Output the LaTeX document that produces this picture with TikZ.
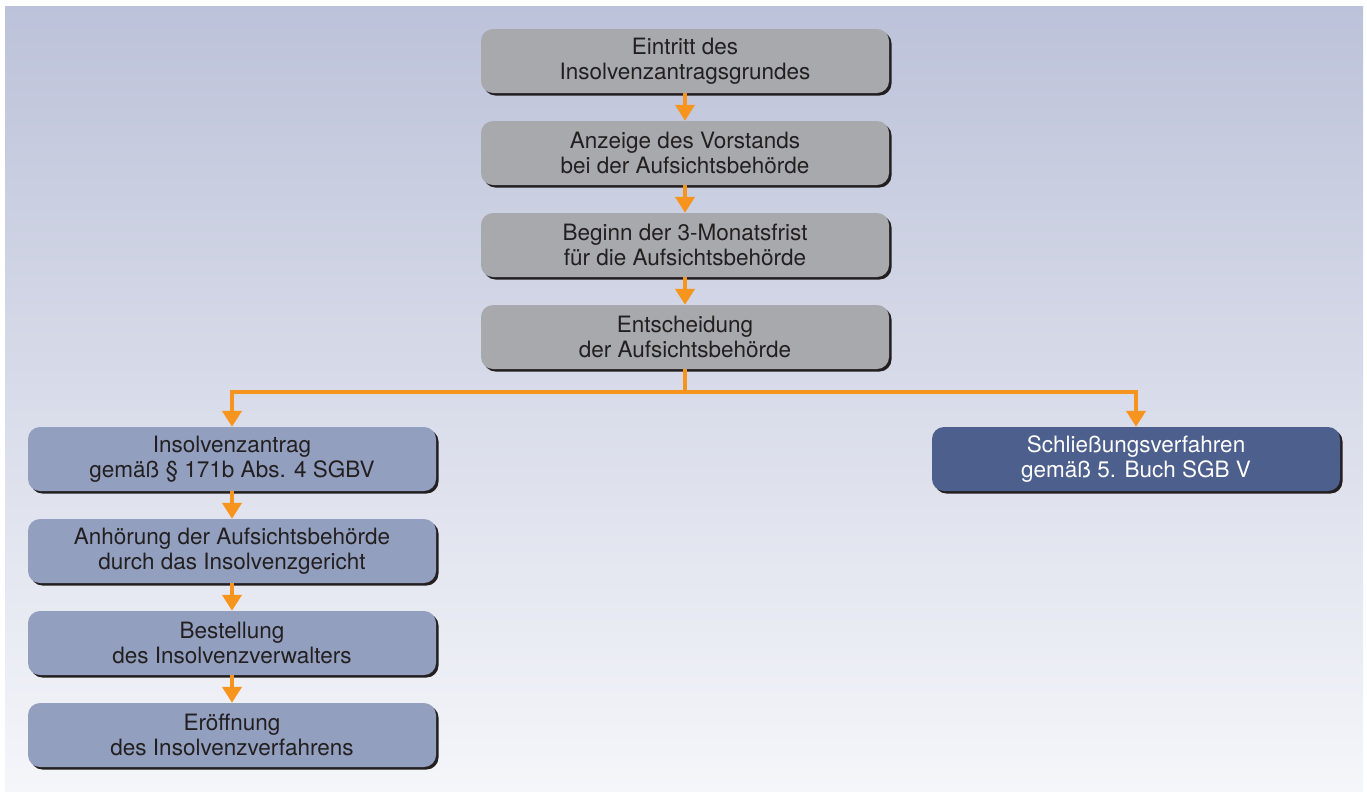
\documentclass[tikz,border=0pt]{standalone}
\usepackage{fontspec}
\setmainfont{TeX Gyre Heros}
\usetikzlibrary{arrows.meta,shadows}

\definecolor{bgtop}{HTML}{BCC2D9}
\definecolor{bgbottom}{HTML}{F5F6FA}
\definecolor{stepgray}{HTML}{A7A9AC}
\definecolor{steplight}{HTML}{929FBF}
\definecolor{stepdark}{HTML}{4D5F8C}
\definecolor{flowline}{HTML}{F7941D}
\definecolor{inktext}{HTML}{231F20}

\tikzset{
  stepbox/.style={rectangle, rounded corners=12pt, minimum width=408pt,
    minimum height=64pt, align=center, text=inktext,
    font=\fontsize{22.5}{24.5}\selectfont,
    drop shadow={shadow xshift=2.5pt, shadow yshift=-2.5pt, fill=inktext, opacity=1}},
  graybox/.style={stepbox, fill=stepgray},
  lightbox/.style={stepbox, fill=steplight},
  darkbox/.style={stepbox, fill=stepdark, text=white},
  flow/.style={draw=flowline, line width=4pt,
    -{Triangle[width=19pt,length=16pt]}}
}

\begin{document}
\begin{tikzpicture}[x=1pt,y=-1pt]
\useasboundingbox (0,0) rectangle (1367,793);
\shade[top color=bgtop, bottom color=bgbottom] (5,6) rectangle (1363,791);
            % Boxes
\node[graybox] (entry) at (685,61) {Eintritt des\\Insolvenzantragsgrundes};
\node[graybox] (notice) at (685,153) {Anzeige des Vorstands\\bei der Aufsichtsbehörde};
\node[graybox] (period) at (685,245) {Beginn der 3-Monatsfrist\\für die Aufsichtsbehörde};
\node[graybox] (decision) at (685,337) {Entscheidung\\der Aufsichtsbehörde};
\node[lightbox] (petition) at (232,459) {Insolvenzantrag\\gemäß § 171b Abs. 4 SGBV};
\node[lightbox] (hearing) at (232,551) {Anhörung der Aufsichtsbehörde\\durch das Insolvenzgericht};
\node[lightbox] (trustee) at (232,643) {Bestellung\\des Insolvenzverwalters};
\node[lightbox] (opening) at (232,735) {Eröffnung\\des Insolvenzverfahrens};
\node[darkbox] (closure) at (1136,459) {Schließungsverfahren\\gemäß 5. Buch SGB V};
\coordinate (split) at (685,392);
%Arrows
\draw[flow] (entry) -- (notice);
\draw[flow] (notice) -- (period);
\draw[flow] (period) -- (decision);
\draw[flow] (decision.south) -- (split) -| (petition.north);
\draw[flow] (split) -| (closure.north);
\draw[flow] (petition) -- (hearing);
\draw[flow] (hearing) -- (trustee);
\draw[flow] (trustee) -- (opening);
\end{tikzpicture}
\end{document}
